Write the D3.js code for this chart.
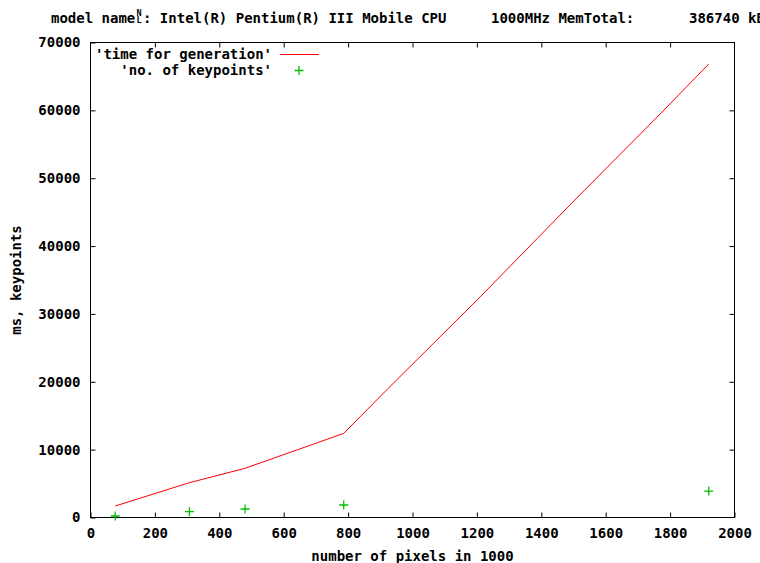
<!DOCTYPE html>
<html>
<head>
<meta charset="utf-8">
<script src="https://cdn.jsdelivr.net/npm/d3@7"></script>
<style>
  html, body { margin: 0; padding: 0; background: #fff; }
  svg { display: block; }
  text { font-family: "DejaVu Sans Mono", "Liberation Mono", monospace; font-weight: bold; font-size: 14px; fill: #000; }
</style>
</head>
<body>
<svg id="chart" width="760" height="563"></svg>
<script>
// Image size (thousands of pixels) vs. generation time and keypoint count
const pixels      = [76.8, 307.2, 480, 786.4, 924, 1210, 1495, 1775, 1920];
const timeMs      = [1695, 5130, 7250, 12400, 19000, 32500, 46350, 59750, 66830];
const kpPixels    = [76.8, 307.2, 480, 786.4, 1920];
const keypoints   = [220, 855, 1250, 1840, 3900];
const xTicks      = [0, 200, 400, 600, 800, 1000, 1200, 1400, 1600, 1800, 2000];
const yTicks      = [0, 10000, 20000, 30000, 40000, 50000, 60000, 70000];
const seriesNames = ["'time for generation'", "'no. of keypoints'"];

const svg = d3.select("#chart");
const L = 90.5, R = 734.5, T = 42.5, B = 517.5;
const x = d3.scaleLinear().domain([0, 2000]).range([L, R]);
const y = d3.scaleLinear().domain([0, 70000]).range([B, T]);
const red = "#ff0000", green = "#00c000";

// Title line (the newline in the cpuinfo string shows as a small N/L glyph)
const title = svg.append("g");
title.append("text").attr("x", 51).attr("y", 23).text("model name");
title.append("text").attr("x", 136.5).attr("y", 16).style("font-size", "8.5px").text("N");
title.append("text").attr("x", 136.5).attr("y", 23).style("font-size", "8.5px").text("L");
title.append("text").attr("x", 143).attr("y", 23).attr("xml:space", "preserve")
  .text(": Intel(R) Pentium(R) III Mobile CPU");
title.append("text").attr("x", 491).attr("y", 23).text("1000MHz MemTotal:");
title.append("text").attr("x", 689).attr("y", 23).text("386740 kB");

// Axes with inward ticks (mirrored on top and right)
const xAxis = d3.axisBottom(x).tickValues(xTicks).tickSizeInner(-5).tickSizeOuter(0).tickPadding(11).tickFormat(d3.format("d"));
const yAxis = d3.axisLeft(y).tickValues(yTicks).tickSizeInner(-5).tickSizeOuter(0).tickPadding(10).tickFormat(d3.format("d"));

const gx = svg.append("g").attr("transform", `translate(0,${B})`).call(xAxis);
const gy = svg.append("g").attr("transform", `translate(${L},0)`).call(yAxis);
svg.append("g").attr("transform", `translate(0,${T})`)
  .call(d3.axisTop(x).tickValues(xTicks.slice(1, -1)).tickSizeInner(-5).tickSizeOuter(0).tickFormat(""));
svg.append("g").attr("transform", `translate(${R},0)`)
  .call(d3.axisRight(y).tickValues(yTicks.slice(1, -1)).tickSizeInner(-5).tickSizeOuter(0).tickFormat(""));

svg.selectAll(".domain").remove();
svg.selectAll(".tick line").attr("stroke", "#000");
svg.selectAll(".tick text")
  .style("font-family", "DejaVu Sans Mono, monospace").style("font-weight", "bold").style("font-size", "14px").attr("fill", "#000");
gx.selectAll(".tick text").attr("dy", "0.71em");

// Border
svg.append("rect").attr("x", L).attr("y", T).attr("width", R - L).attr("height", B - T)
  .attr("fill", "none").attr("stroke", "#000").attr("stroke-width", 1);

// Axis titles
svg.append("text").attr("x", (L + R) / 2).attr("y", 561).attr("text-anchor", "middle").text("number of pixels in 1000");
svg.append("text").attr("transform", `translate(21,280) rotate(-90)`).attr("text-anchor", "middle").text("ms, keypoints");

// Generation time line
const line = d3.line().x((d, i) => x(pixels[i])).y(d => y(d));
svg.append("path").datum(timeMs).attr("d", line)
  .attr("fill", "none").attr("stroke", red).attr("stroke-width", 1);

// Keypoint markers
const plus = (g, cx, cy) => {
  g.append("path").attr("d", `M${cx - 4.5},${cy}H${cx + 4.5}M${cx},${cy - 4.5}V${cy + 4.5}`)
    .attr("stroke", green).attr("stroke-width", 1.3).attr("fill", "none");
};
const gm = svg.append("g");
keypoints.forEach((v, i) => plus(gm, x(kpPixels[i]), y(v)));

// Legend
svg.append("text").attr("x", 272).attr("y", 59).attr("text-anchor", "end").text(seriesNames[0]);
svg.append("line").attr("x1", 280).attr("x2", 319).attr("y1", 54.5).attr("y2", 54.5).attr("stroke", red);
svg.append("text").attr("x", 272).attr("y", 75).attr("text-anchor", "end").text(seriesNames[1]);
plus(svg, 299, 70.5);
</script>
</body>
</html>
